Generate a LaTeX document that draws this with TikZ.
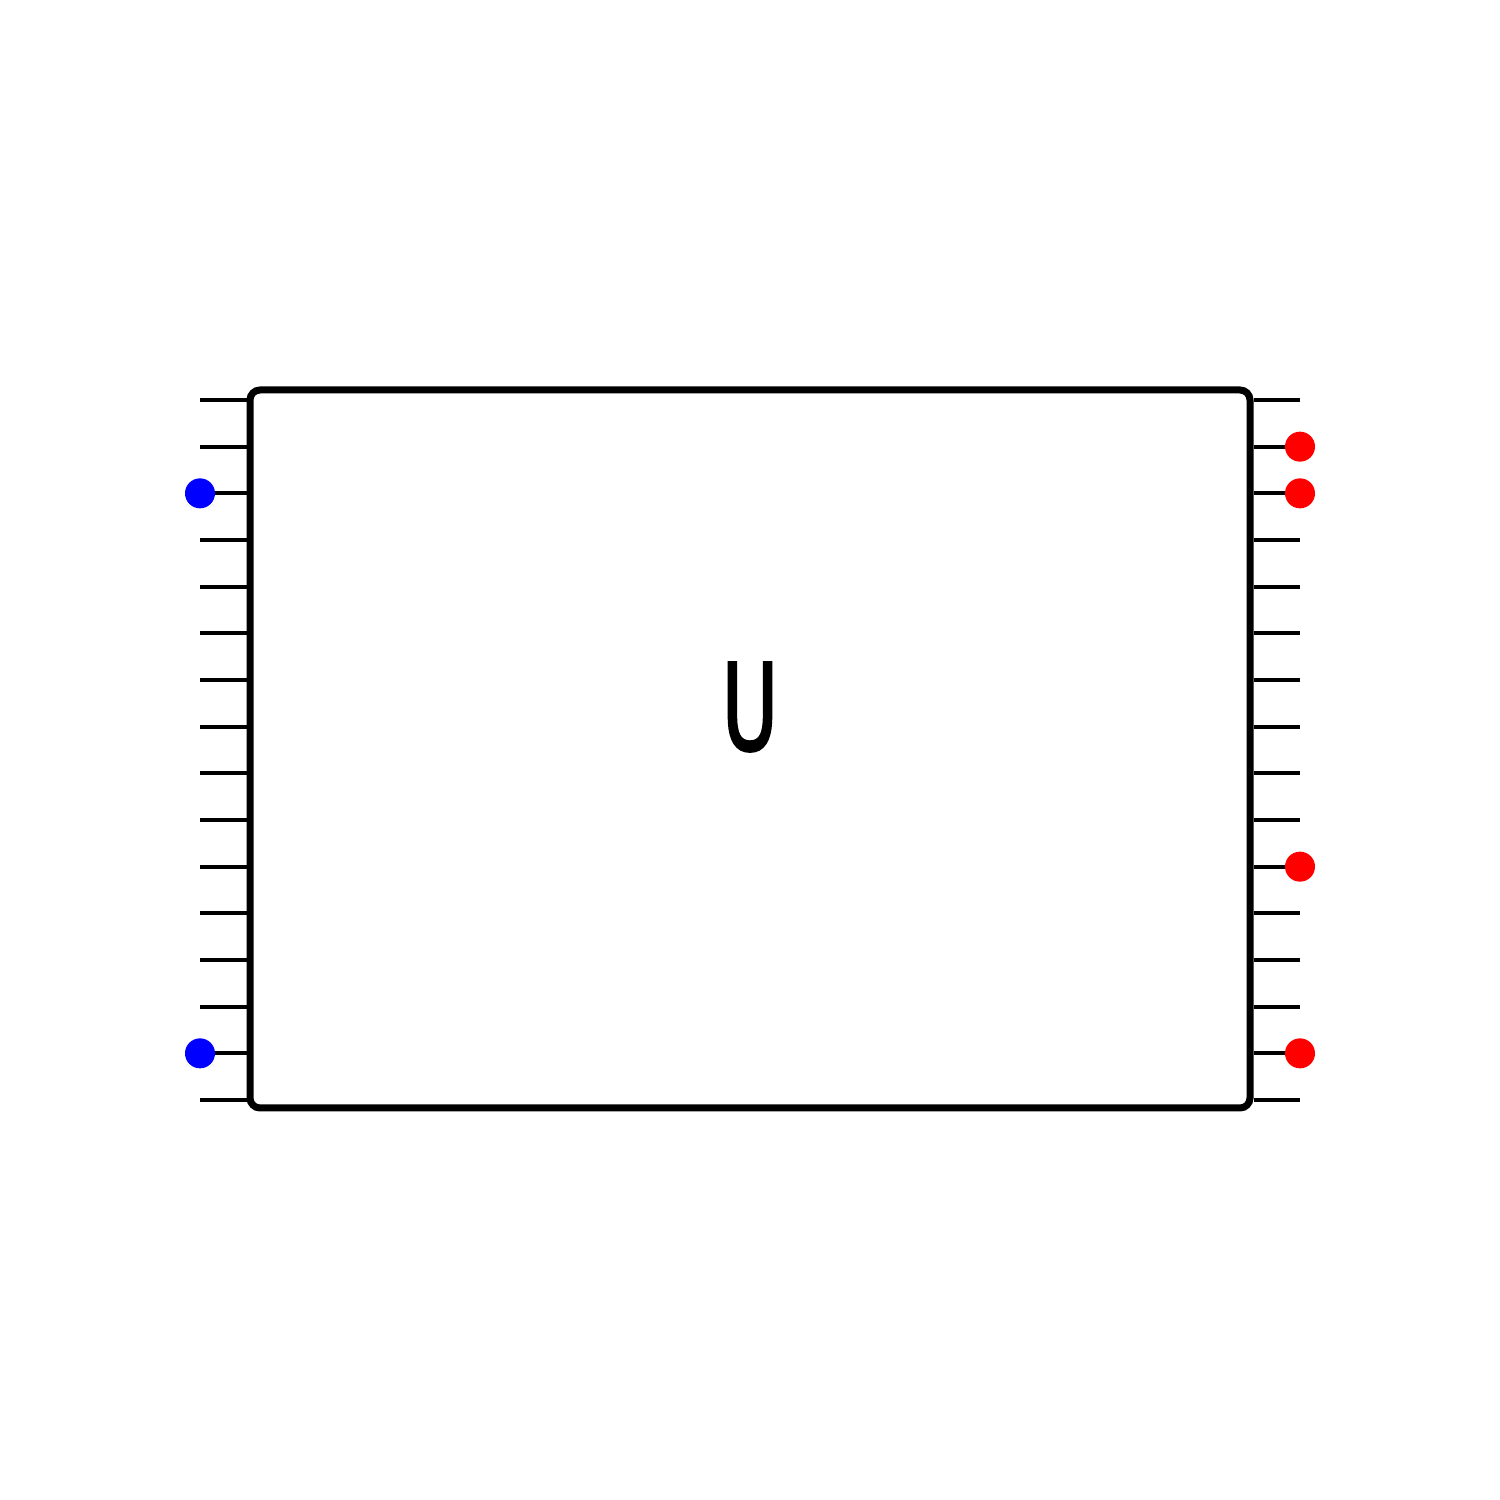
\documentclass[tikz,border=0pt]{standalone}
\usepackage{fontspec}
\newfontfamily\gatefont[FakeBold=2.5]{DejaVu Sans}
\usepackage{xcolor}

\begin{document}
\begin{tikzpicture}[
  wire/.style={line width=0.04cm},
  gate/.style={draw, line width=0.07cm, rounded corners=0.1cm, inner sep=0pt,
    minimum width=10cm, minimum height=7.18cm},
  ctrl/.style={circle, fill=blue, inner sep=0pt, minimum size=0.3cm},
  targ/.style={circle, fill=red, inner sep=0pt, minimum size=0.3cm},
]
\useasboundingbox (0,0) rectangle (15,15);

\node[gate] (u) at (7.5,7.51) {};
\node[xscale=0.64] (ulabel) at (7.5,7.93) {\gatefont\fontsize{34}{34}\selectfont U};

\foreach \i in {1,...,16}{
  \coordinate (l\i) at (2,{11-(\i-1)*0.46667});
  \coordinate (r\i) at (13,{11-(\i-1)*0.46667});
  \draw[wire] (l\i) -- (u.west |- l\i);
  \draw[wire] (u.east |- r\i) -- (r\i);
}

\node[ctrl] (c1) at (l3) {};
\node[ctrl] (c2) at (l15) {};

\node[targ] (t1) at (r2) {};
\node[targ] (t2) at (r3) {};
\node[targ] (t3) at (r11) {};
\node[targ] (t4) at (r15) {};

\end{tikzpicture}
\end{document}
